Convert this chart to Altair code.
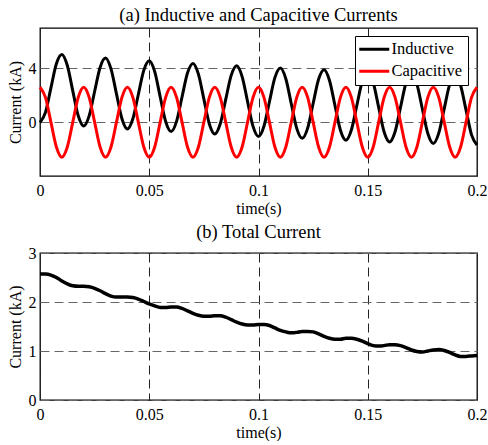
import altair as alt
import pandas as pd

# time grid (s)
time_s = [0.0, 0.0025, 0.005, 0.0075, 0.01, 0.0125, 0.015, 0.0175, 0.02, 0.0225,
          0.025, 0.0275, 0.03, 0.0325, 0.035, 0.0375, 0.04, 0.0425, 0.045, 0.0475,
          0.05, 0.0525, 0.055, 0.0575, 0.06, 0.0625, 0.065, 0.0675, 0.07, 0.0725,
          0.075, 0.0775, 0.08, 0.0825, 0.085, 0.0875, 0.09, 0.0925, 0.095, 0.0975,
          0.1, 0.1025, 0.105, 0.1075, 0.11, 0.1125, 0.115, 0.1175, 0.12, 0.1225,
          0.125, 0.1275, 0.13, 0.1325, 0.135, 0.1375, 0.14, 0.1425, 0.145, 0.1475,
          0.15, 0.1525, 0.155, 0.1575, 0.16, 0.1625, 0.165, 0.1675, 0.17, 0.1725,
          0.175, 0.1775, 0.18, 0.1825, 0.185, 0.1875, 0.19, 0.1925, 0.195, 0.1975,
          0.2]

# inductive current (kA)
inductive = [-0.02, 0.73, 2.55, 4.34, 5.03, 4.21, 2.33, 0.48, -0.28, 0.47,
             2.28, 4.07, 4.77, 3.96, 2.10, 0.26, -0.50, 0.25, 2.06, 3.85,
             4.56, 3.76, 1.89, 0.05, -0.70, 0.06, 1.87, 3.66, 4.37, 3.57,
             1.71, -0.13, -0.88, -0.12, 1.69, 3.48, 4.19, 3.39, 1.53, -0.31,
             -1.06, -0.30, 1.52, 3.31, 4.02, 3.23, 1.37, -0.46, -1.20, -0.44,
             1.39, 3.19, 3.90, 3.10, 1.24, -0.60, -1.34, -0.58, 1.24, 3.04,
             3.75, 2.95, 1.10, -0.73, -1.47, -0.71, 1.11, 2.91, 3.62, 2.83,
             0.98, -0.84, -1.58, -0.81, 1.01, 2.81, 3.52, 2.73, 0.89, -0.94,
             -1.69]

# capacitive current (kA)
capacitive = [2.6, 1.84, 0.0, -1.84, -2.6, -1.84, 0.0, 1.84, 2.6, 1.84,
              0.0, -1.84, -2.6, -1.84, 0.0, 1.84, 2.6, 1.84, 0.0, -1.84,
              -2.6, -1.84, 0.0, 1.84, 2.6, 1.84, 0.0, -1.84, -2.6, -1.84,
              0.0, 1.84, 2.6, 1.84, 0.0, -1.84, -2.6, -1.84, 0.0, 1.84,
              2.6, 1.84, 0.0, -1.84, -2.6, -1.84, 0.0, 1.84, 2.6, 1.84,
              0.0, -1.84, -2.6, -1.84, 0.0, 1.84, 2.6, 1.84, 0.0, -1.84,
              -2.6, -1.84, 0.0, 1.84, 2.6, 1.84, 0.0, -1.84, -2.6, -1.84,
              0.0, 1.84, 2.6, 1.84, 0.0, -1.84, -2.6, -1.84, 0.0, 1.84,
              2.6]

# total current (kA)
total = [2.57, 2.57, 2.55, 2.50, 2.43, 2.37, 2.33, 2.32, 2.32, 2.31,
         2.28, 2.23, 2.17, 2.12, 2.10, 2.10, 2.10, 2.09, 2.06, 2.01,
         1.96, 1.92, 1.89, 1.89, 1.90, 1.90, 1.87, 1.82, 1.77, 1.73,
         1.71, 1.71, 1.72, 1.72, 1.69, 1.64, 1.59, 1.55, 1.53, 1.53,
         1.54, 1.54, 1.52, 1.47, 1.42, 1.39, 1.37, 1.38, 1.40, 1.40,
         1.39, 1.35, 1.30, 1.26, 1.24, 1.24, 1.26, 1.26, 1.24, 1.20,
         1.15, 1.11, 1.10, 1.11, 1.13, 1.13, 1.11, 1.07, 1.02, 0.99,
         0.98, 1.00, 1.02, 1.03, 1.01, 0.97, 0.92, 0.89, 0.89, 0.90,
         0.91]

series_names = ["Inductive", "Capacitive"]
series_colors = ["#000000", "#ff0000"]
x_ticks = [0, 0.05, 0.1, 0.15, 0.2]
y_ticks_a = [0, 4]
y_ticks_b = [0, 1, 2, 3]

FONT = "Liberation Serif, Times New Roman, DejaVu Serif, serif"

df_a = pd.concat([
    pd.DataFrame({"t": time_s, "I": inductive, "series": "Inductive", "order": 0}),
    pd.DataFrame({"t": time_s, "I": capacitive, "series": "Capacitive", "order": 1}),
])
df_b = pd.DataFrame({"t": time_s, "I": total})

x_axis = alt.Axis(values=x_ticks, format="~g", title="time(s)", grid=True, labelFlush=False)

top = alt.Chart(df_a, title=alt.TitleParams(
    "(a) Inductive and Capacitive Currents", font=FONT, fontSize=18.5,
    fontWeight="normal", color="black", offset=4)
).mark_line(strokeWidth=3, interpolate="monotone").encode(
    x=alt.X("t:Q", scale=alt.Scale(domain=[0, 0.2], nice=False), axis=x_axis),
    y=alt.Y("I:Q", scale=alt.Scale(domain=[-4, 7], nice=False),
            axis=alt.Axis(values=y_ticks_a, title="Current (kA)", labelFlush=False)),
    color=alt.Color("series:N", scale=alt.Scale(domain=series_names, range=series_colors),
                    legend=alt.Legend(title=None, orient="none", legendX=315, legendY=8,
                                      fillColor="white", strokeColor="black",
                                      padding=5, symbolType="M-2.5,0H2.5", symbolSize=144,
                                      symbolOffset=6, symbolStrokeWidth=3, labelFont=FONT,
                                      labelFontSize=16.5, labelOffset=9, rowPadding=5,
                                      labelColor="black")),
    detail="series:N",
    order="order:Q",
).properties(width=437, height=148)

bottom = alt.Chart(df_b, title=alt.TitleParams(
    "(b) Total Current", font=FONT, fontSize=18.5,
    fontWeight="normal", color="black", offset=4)
).mark_line(strokeWidth=3.5, interpolate="monotone", color="black").encode(
    x=alt.X("t:Q", scale=alt.Scale(domain=[0, 0.2], nice=False), axis=x_axis),
    y=alt.Y("I:Q", scale=alt.Scale(domain=[0, 3], nice=False),
            axis=alt.Axis(values=y_ticks_b, title="Current (kA)", labelFlush=False)),
).properties(width=437, height=147)

chart = alt.vconcat(top, bottom, spacing=4).properties(
    padding={"left": 6, "top": 4, "right": 0, "bottom": 0}
).configure_view(
    stroke="black", strokeWidth=1.3
).configure_axis(
    labelFont=FONT, labelFontSize=16, labelColor="black",
    titleFont=FONT, titleFontSize=16, titleFontWeight="normal", titleColor="black",
    domain=False, ticks=False, labelPadding=6, titlePadding=2,
    gridDash=[9, 5], gridWidth=1, gridOpacity=1,
).configure_axisX(
    gridColor="#222222"
).configure_axisY(
    titlePadding=5, labelPadding=4, gridColor="#666666"
).configure_legend(
    cornerRadius=0
)

chart.save("out.html", embed_options={"renderer": "svg", "actions": False})
